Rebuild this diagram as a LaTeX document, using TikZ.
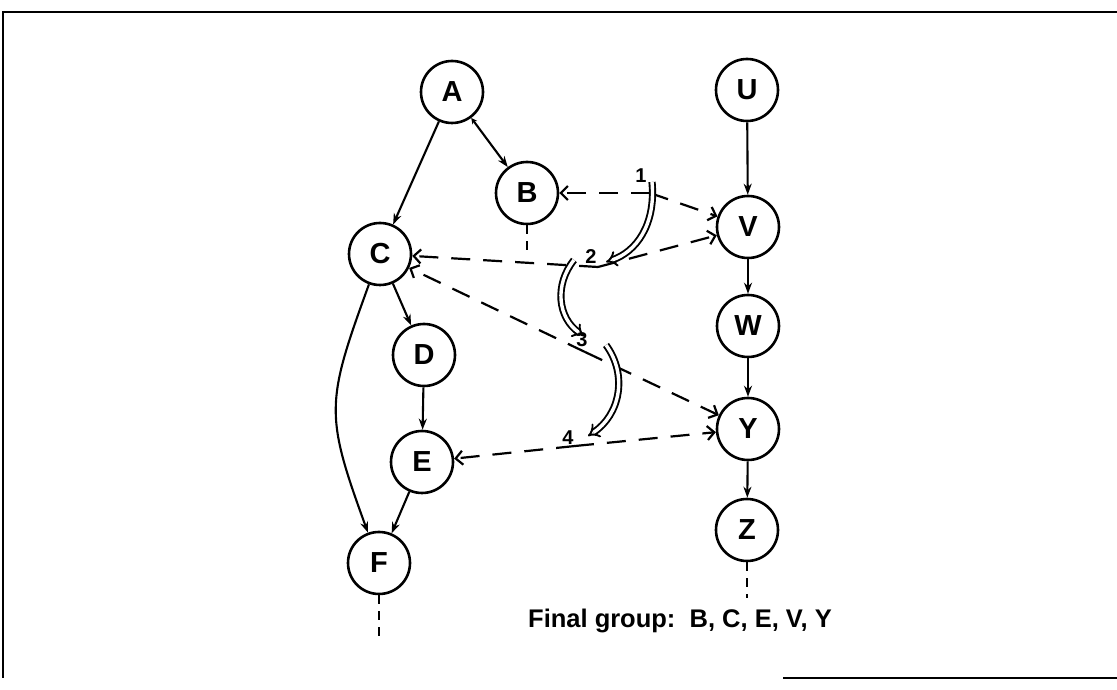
\documentclass[tikz,border=0pt]{standalone}
\usepackage{fontspec}
\setmainfont{Liberation Sans}
\usetikzlibrary{arrows.meta}

\begin{document}
\begin{tikzpicture}[x=1pt,y=1pt,
  vertex/.style={circle,draw,line width=2.6pt,minimum size=62pt,inner sep=0pt,
    font=\fontsize{29}{32}\selectfont\bfseries},
  tedge/.style={line width=2.1pt,-{Stealth[length=11pt,width=8pt]}},
  dlink/.style={line width=2.2pt,dash pattern=on 19pt off 13pt,
    -{Straight Barb[length=7pt,width=14pt]}},
  dstep/.style={double,double distance=3.4pt,line width=1.9pt,-{Implies}},
  stub/.style={line width=2.4pt,dash pattern=on 9pt off 7pt},
  steplabel/.style={font=\fontsize{20}{22}\selectfont\bfseries,inner sep=1pt}]

\useasboundingbox (0,0) rectangle (1117,690);

% frame
\draw[line width=2pt] (1117,678) -- (3,678) -- (3,12);
\draw[line width=2pt] (783,12) -- (1117,12);

% the two trees
\foreach \name/\x/\y in {A/452/598,B/527/497,C/380/436,D/424/335,E/422/228,F/379/127,
                          U/747/600,V/748/463,W/748/364,Y/748/261,Z/747/160}
  \node[vertex] (\name) at (\x,\y) {\name};

\foreach \a/\b in {A/C,C/D,D/E,E/F,U/V,V/W,W/Y,Y/Z}
  \draw[tedge] (\a) -- (\b);
\draw[line width=2.1pt,{Stealth[length=6pt,width=6pt]}-{Stealth[length=11pt,width=8pt]}] (A) -- (B);
\draw[tedge] (C) to[out=250,in=110,looseness=1.3] (F);

% open ends
\draw[stub] (B.south) -- ++(0,-28);
\draw[stub] (F.south) -- ++(0,-46);
\draw[stub] (Z.south) -- ++(0,-36);

% steps
\coordinate (p1) at (650,497);
\coordinate (p2) at (598,423);
\coordinate (p3) at (585,338);
\coordinate (p4) at (575,244);
\node[steplabel] (n1) at (641,514) {1};
\node[steplabel] (n2) at (591,433) {2};
\node[steplabel] (n3) at (582,350) {3};
\node[steplabel] (n4) at (568,252) {4};

\draw[dlink] (p1) -- (B);
\draw[dlink] (p1) -- (V);
\draw[dlink] (p2) -- (C);
\draw[dlink] (p2) -- (V);
\draw[dlink] (p3) -- (C);
\draw[dlink] (p3) -- (Y);
\draw[dlink] (p4) -- (E);
\draw[dlink] (p4) -- (Y);

\coordinate (s1) at (652,508);
\coordinate (e1) at (606,428);
\coordinate (s2) at (574,430);
\coordinate (e2) at (584,354);
\coordinate (s3) at (606,345);
\coordinate (e3) at (588,254);
\draw[dstep] (s1) .. controls (656,465) and (636,438) .. (e1);
\draw[dstep] (s2) .. controls (554,405) and (558,372) .. (e2);
\draw[dstep] (s3) .. controls (628,315) and (620,275) .. (e3);

\node[font=\fontsize{25.5}{30}\selectfont\bfseries] (result) at (680,69) {Final group:\ \ B, C, E, V, Y};

\end{tikzpicture}
\end{document}
